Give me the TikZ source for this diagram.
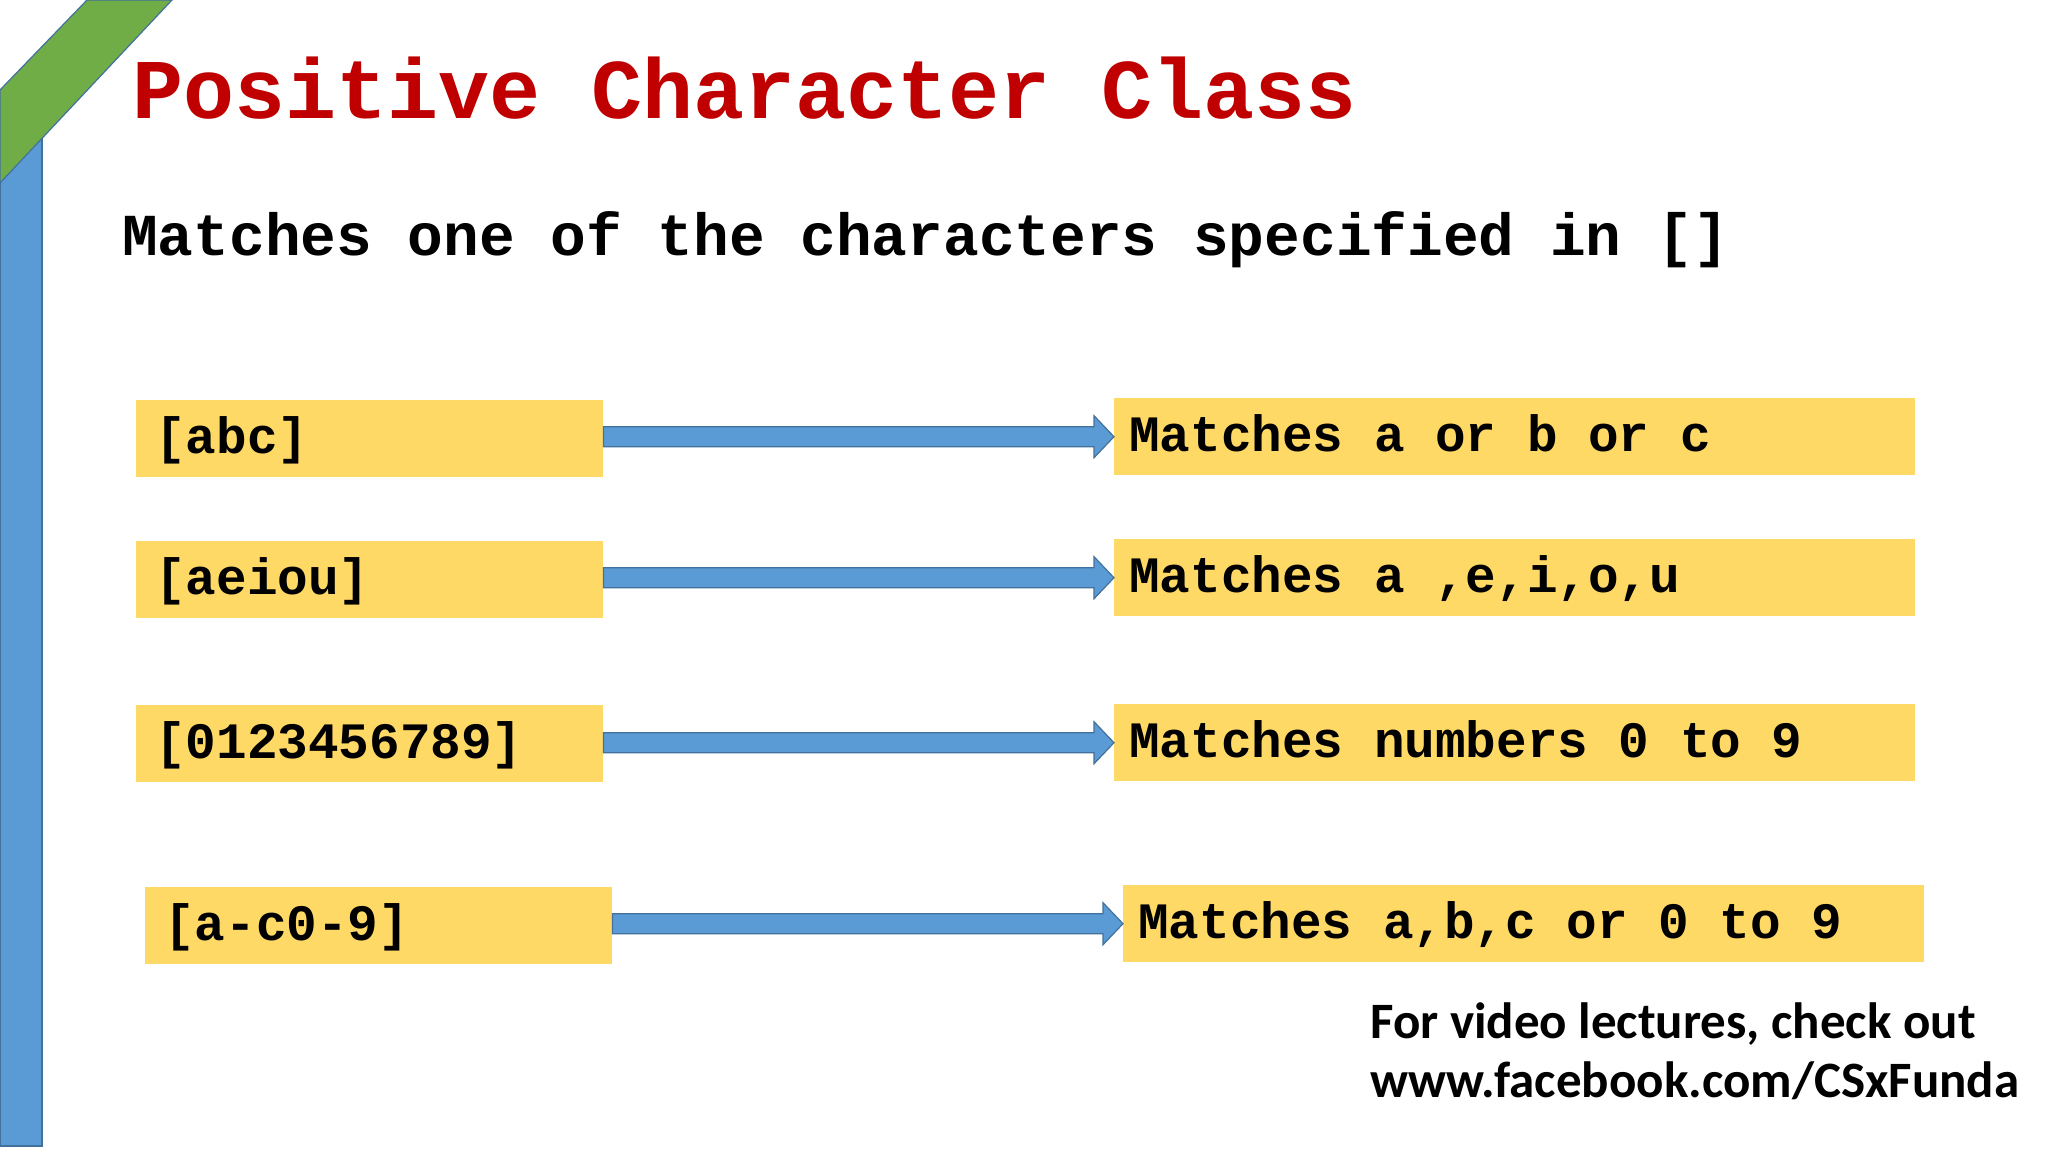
\documentclass[tikz,border=0pt]{standalone}
\usepackage{fontspec}
\setmainfont{Liberation Sans}
\setmonofont{Liberation Mono}
\newfontfamily\footfont{Carlito}
\usetikzlibrary{calc}
\definecolor{boxgold}{HTML}{FFD966}
\definecolor{arrblue}{HTML}{5B9BD5}
\definecolor{edgeblue}{HTML}{41719C}
\definecolor{bandgreen}{HTML}{70AD47}
\definecolor{titlered}{HTML}{C00000}
\newcommand{\lbtext}[1]{\makebox[447pt][l]{#1}}
\newcommand{\rbtext}[1]{\makebox[771pt][l]{#1}}
\tikzset{
  lbox/.style={fill=boxgold, anchor=north west, minimum width=467pt, minimum height=77pt,
    inner xsep=10pt, inner ysep=0pt, text height=38pt, text depth=9pt,
    font=\fontsize{51}{60}\selectfont\ttfamily\bfseries},
  rbox/.style={lbox, minimum width=801pt, inner xsep=15pt},
  blockarrow/.style={fill=arrblue, draw=edgeblue, line width=1.2pt, line join=miter},
  titletext/.style={anchor=base west, inner sep=0pt, text=titlered,
    font=\fontsize{85}{100}\selectfont\ttfamily\bfseries},
  subtext/.style={anchor=base west, inner sep=0pt,
    font=\fontsize{59.5}{68}\selectfont\ttfamily\bfseries},
  foottext/.style={anchor=base west, inner sep=0pt,
    font=\fontsize{51}{60}\selectfont\footfont\bfseries}
}
\begin{document}
\begin{tikzpicture}[x=1pt,y=-1pt]
\useasboundingbox (0,0) rectangle (2048,1152);
\fill[white] (0,0) rectangle (2048,1152);
% side decoration
\filldraw[fill=arrblue, draw=edgeblue, line width=1.5pt] (0,100) rectangle (42,1146);
\filldraw[fill=bandgreen, draw=edgeblue, line width=1.2pt] (87,0) -- (172,0) -- (0,183) -- (0,90) -- cycle;
% titles
\node[titletext] (title) at (132,118) {Positive Character Class};
\node[subtext] (sub) at (122,255) {Matches one of the characters specified in []};
% rows
\node[lbox] (l1) at (136,400) {\lbtext{\hspace*{9pt}[abc]}};
\node[rbox] (r1) at (1114,398) {\rbtext{Matches a or b or c}};
\node[lbox] (l2) at (136,541) {\lbtext{\hspace*{9pt}[aeiou]}};
\node[rbox] (r2) at (1114,539) {\rbtext{Matches a ,e,i,o,u}};
\node[lbox] (l3) at (136,705) {\lbtext{\hspace*{9pt}[0123456789]}};
\node[rbox] (r3) at (1114,704) {\rbtext{Matches numbers 0 to 9}};
\node[lbox] (l4) at (145,887) {\lbtext{\hspace*{9pt}[a-c0-9]}};
\node[rbox] (r4) at (1123,885) {\rbtext{Matches a,b,c or 0 to 9}};
% arrows
\foreach \i in {1,2,3,4}{
  \filldraw[blockarrow] let \p1=(l\i.east), \p2=(r\i.west) in
    (\x1,\y2+10pt) -- (\x2-20pt,\y2+10pt) -- (\x2-20pt,\y2+21pt) -- (\x2,\y2)
    -- (\x2-20pt,\y2-21pt) -- (\x2-20pt,\y2-10pt) -- (\x1,\y2-10pt) -- cycle;
}
% footer
\node[foottext] (foot1) at (1370,1038) {For video lectures, check out};
\node[foottext] (foot2) at (1370,1097) {www.facebook.com/CSxFunda};
\end{tikzpicture}
\end{document}
